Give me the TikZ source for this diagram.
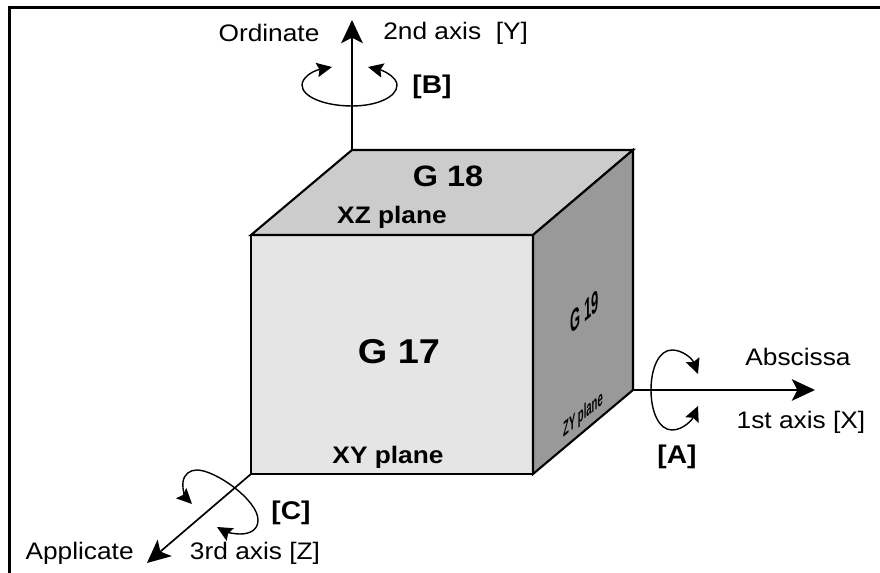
\documentclass[tikz,border=0pt]{standalone}
\usepackage{fontspec}
\setmainfont[FakeStretch=1.1]{Liberation Sans}
\usetikzlibrary{arrows.meta}
\begin{document}
\begin{tikzpicture}[
    lbl/.style={font=\fontsize{17}{20}\selectfont, inner sep=0pt},
    planelbl/.style={font=\fontsize{17}{20}\selectfont\bfseries, inner sep=0pt},
    rotlbl/.style={font=\fontsize{18.2}{22}\selectfont\bfseries, inner sep=0pt},
    sidelbl/.style={inner sep=0pt, transform shape},
    cubeface/.style={draw=black, line width=1.5pt, line join=miter},
    axisline/.style={draw=black, -{Stealth[length=0.58cm, width=0.54cm, inset=0.14cm]}},
    rotline/.style={draw=black, line width=1pt, {Stealth[length=0.38cm, width=0.36cm, inset=0.06cm]}-{Stealth[length=0.38cm, width=0.36cm, inset=0.06cm]}}
]
\useasboundingbox (0,0) rectangle (22,14.325);

%% corners of the cube
\coordinate (fbl) at (6.275, 2.475);
\coordinate (fbr) at (13.325, 2.475);
\coordinate (ftl) at (6.275, 8.45);
\coordinate (ftr) at (13.325, 8.45);
\coordinate (bbr) at (15.825, 4.575);
\coordinate (btl) at (8.8, 10.575);
\coordinate (btr) at (15.825, 10.575);

%% axis ends
\coordinate (ytip) at (8.8, 13.825);
\coordinate (xtip) at (20.375, 4.575);
\coordinate (ztip) at (3.675, 0.25);

%% frame, open to the right and below
\coordinate (fr1) at (0.2375, 0);
\coordinate (fr2) at (0.2375, 14.14);
\coordinate (fr3) at (22, 14.14);
\draw[line width=1.8pt, line join=miter] (fr1) -- (fr2) -- (fr3);

%% faces
\draw[cubeface, fill=black!10] (fbl) -- (fbr) -- (ftr) -- (ftl) -- cycle;
\draw[cubeface, fill=black!20] (ftl) -- (ftr) -- (btr) -- (btl) -- cycle;
\draw[cubeface, fill=black!40] (fbr) -- (bbr) -- (btr) -- (ftr) -- cycle;

%% axes
\draw[axisline, line width=1.7pt] (btl) -- (ytip);
\draw[axisline, line width=1.2pt] (bbr) -- (xtip);
\draw[axisline, line width=1.2pt] (fbl) -- (ztip);

%% rotations
\draw[rotline] (8.3,12.65) .. controls (7.8,12.55) and (7.55,12.375) .. (7.55,12.2)
    .. controls (7.55,11.9) and (8.125,11.675) .. (8.8,11.675)
    .. controls (9.425,11.675) and (9.925,11.9) .. (9.925,12.2)
    .. controls (9.925,12.375) and (9.625,12.55) .. (9.2,12.65);
\draw[rotline] (17.45,4.975) .. controls (17.3,5.375) and (17.05,5.575) .. (16.8,5.575)
    .. controls (16.475,5.575) and (16.275,5.125) .. (16.275,4.575)
    .. controls (16.275,4.025) and (16.475,3.575) .. (16.8,3.575)
    .. controls (17.075,3.575) and (17.3,3.825) .. (17.45,4.175);
\draw[rotline] (4.8,1.725) .. controls (4.65,1.875) and (4.55,2.075) .. (4.575,2.275)
    .. controls (4.6,2.475) and (4.75,2.575) .. (4.925,2.575)
    .. controls (5.375,2.575) and (6.45,1.825) .. (6.45,1.325)
    .. controls (6.45,1.075) and (6.25,0.975) .. (6,0.975)
    .. controls (5.8,0.975) and (5.6,1.05) .. (5.425,1.15);

%% plane labels
\node[font=\fontsize{21}{25}\selectfont\bfseries, inner sep=0pt] (g18) at (11.2, 9.925) {G 18};
\node[planelbl] (xz) at (9.8, 8.9) {XZ plane};
\node[font=\fontsize{24.5}{29}\selectfont\bfseries, inner sep=0pt] (g17) at (9.975, 5.525) {G 17};
\node[planelbl] (xy) at (9.7, 2.9) {XY plane};
\node[sidelbl, cm={0.38,0.32,0,1,(0,0)}, font=\fontsize{22}{26}\selectfont\bfseries] (g19) at (14.625, 6.525) {G 19};
\node[sidelbl, cm={0.41,0.345,0,1,(0,0)}, font=\fontsize{15}{18}\selectfont\bfseries] (zy) at (14.575, 3.95) {ZY plane};

%% axis labels
\node[lbl] (ord) at (6.725, 13.5) {Ordinate};
\node[lbl] (y2) at (11.39, 13.5) {2nd axis\ \ [Y]};
\node[rotlbl] (rb) at (10.8, 12.15) {[B]};
\node[lbl] (abs) at (19.95, 5.4) {Abscissa};
\node[lbl] (x1) at (20.025, 3.775) {1st axis [X]};
\node[rotlbl] (ra) at (16.925, 2.9) {[A]};
\node[rotlbl] (rc) at (7.275, 1.5) {[C]};
\node[lbl] (app) at (1.99, 0.5) {Applicate};
\node[lbl] (z3) at (6.375, 0.5) {3rd axis [Z]};
\end{tikzpicture}
\end{document}
